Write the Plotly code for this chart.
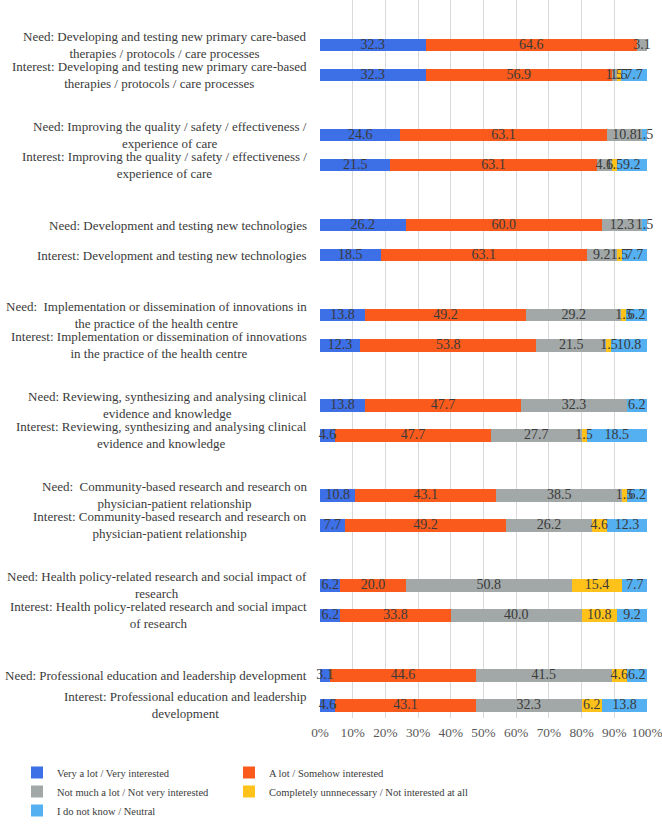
import plotly.graph_objects as go

need_labels = [
    "Need: Developing and testing new primary care-based<br>therapies / protocols / care processes",
    "Need: Improving the quality / safety / effectiveness /<br>experience of care",
    "Need: Development and testing new technologies",
    "Need:  Implementation or dissemination of innovations in<br>the practice of the health centre",
    "Need: Reviewing, synthesizing and analysing clinical<br>evidence and knowledge",
    "Need:  Community-based research and research on<br>physician-patient relationship",
    "Need: Health policy-related research and social impact of<br>research",
    "Need: Professional education and leadership development",
]
interest_labels = [
    "Interest: Developing and testing new primary care-based<br>therapies / protocols / care processes",
    "Interest: Improving the quality / safety / effectiveness /<br>experience of care",
    "Interest: Development and testing new technologies",
    "Interest: Implementation or dissemination of innovations<br>in the practice of the health centre",
    "Interest: Reviewing, synthesizing and analysing clinical<br>evidence and knowledge",
    "Interest: Community-based research and research on<br>physician-patient relationship",
    "Interest: Health policy-related research and social impact<br>of research",
    "Interest: Professional education and leadership<br>development",
]

series_names = [
    "Very a lot / Very interested",
    "A lot / Somehow interested",
    "Not much a lot / Not very interested",
    "Completely unnnecessary / Not interested at all",
    "I do not know / Neutral",
]

# values per topic: [very, a lot, not much, unnecessary, don't know]
need_values = [
    [32.3, 64.6, 3.1, 0, 0],
    [24.6, 63.1, 10.8, 0, 1.5],
    [26.2, 60.0, 12.3, 0, 1.5],
    [13.8, 49.2, 29.2, 1.5, 6.2],
    [13.8, 47.7, 32.3, 0, 6.2],
    [10.8, 43.1, 38.5, 1.5, 6.2],
    [6.2, 20.0, 50.8, 15.4, 7.7],
    [3.1, 44.6, 41.5, 4.6, 6.2],
]
interest_values = [
    [32.3, 56.9, 1.5, 1.5, 7.7],
    [21.5, 63.1, 4.6, 1.5, 9.2],
    [18.5, 63.1, 9.2, 1.5, 7.7],
    [12.3, 53.8, 21.5, 1.5, 10.8],
    [4.6, 47.7, 27.7, 1.5, 18.5],
    [7.7, 49.2, 26.2, 4.6, 12.3],
    [6.2, 33.8, 40.0, 10.8, 9.2],
    [4.6, 43.1, 32.3, 6.2, 13.8],
]

tick_vals = [0, 10, 20, 30, 40, 50, 60, 70, 80, 90, 100]
tick_text = ["0%", "10%", "20%", "30%", "40%", "50%", "60%", "70%", "80%", "90%", "100%"]

colors = ["#3D6FE6", "#FA5A1C", "#A2A8A8", "#FFC21A", "#55B0F2"]

SERIF = "Liberation Serif"
FS = 13.0

# rows: need then interest per topic, with a gap slot between topics
labels, rows, ypos = [], [], []
for i in range(len(need_labels)):
    labels += [need_labels[i], interest_labels[i]]
    rows += [need_values[i], interest_values[i]]
    ypos += [3 * i, 3 * i + 1]

fig = go.Figure()
legend_map = ["legend", "legend2", "legend", "legend2", "legend"]
for k, name in enumerate(series_names):
    vals = [r[k] if r[k] else None for r in rows]
    fig.add_trace(go.Bar(
        y=ypos, x=vals, orientation="h", name=name,
        marker=dict(color=colors[k], line=dict(width=0)),
        width=0.43, legend=legend_map[k], legendgroup=f"g{k}",
        hoverinfo="x+name",
    ))

# value labels on top of all bars (centre of each stacked segment)
tx, ty, tt = [], [], []
for y, r in zip(ypos, rows):
    start = 0.0
    for v in r:
        if v:
            tx.append(start + v / 2)
            ty.append(y)
            tt.append(f"{v:.1f}")
        start += v
fig.add_trace(go.Scatter(
    x=tx, y=ty, text=tt, mode="text", showlegend=False, cliponaxis=False,
    textfont=dict(family=SERIF, size=14, color="#3a3a3a"), hoverinfo="skip",
))

for y, lab in zip(ypos, labels):
    fig.add_annotation(
        x=0, y=y, xref="paper", yref="y", text=lab, showarrow=False,
        xanchor="right", yanchor="middle", align="center", xshift=-11,
        font=dict(family=SERIF, size=FS, color="#3a3a3a"),
    )

legend_common = dict(
    orientation="v", xanchor="left", yanchor="top", y=-0.0557,
    font=dict(family=SERIF, size=10.5, color="#3a3a3a"),
    bgcolor="rgba(0,0,0,0)", itemclick=False, traceorder="normal",
    tracegroupgap=8,
)
fig.update_layout(
    width=662, height=829,
    margin=dict(l=320, r=15, t=0, b=111, autoexpand=False),
    barmode="stack",
    plot_bgcolor="white", paper_bgcolor="white",
    showlegend=True,
    legend=dict(**legend_common, x=-0.9266),
    legend2=dict(**legend_common, x=-0.2783),
    xaxis=dict(
        range=[0, 100], tickvals=tick_vals, ticktext=tick_text,
        showgrid=True, gridcolor="#d9d9d9", gridwidth=1,
        zeroline=False, showline=False,
        ticks="outside", ticklen=2, tickcolor="rgba(0,0,0,0)",
        ticklabeloverflow="allow",
        tickfont=dict(family=SERIF, size=13.3, color="#595959"),
    ),
    yaxis=dict(
        range=[22.43, -1.5], showticklabels=False, showgrid=False,
        zeroline=False, showline=False, ticks="",
    ),
)

fig.write_html("out.html", config={"displayModeBar": False},
               post_script="document.body.style.margin='0';")
